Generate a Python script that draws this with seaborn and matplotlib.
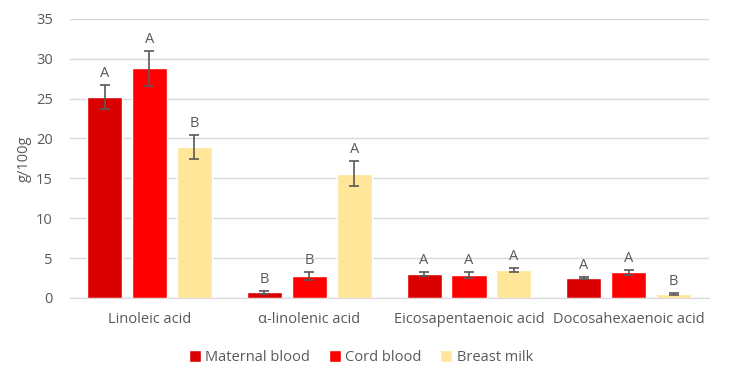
import pandas as pd
import numpy as np
import matplotlib.pyplot as plt
import seaborn as sns

# values
acids = ['Linoleic acid', 'α-linolenic acid', 'Eicosapentaenoic acid', 'Docosahexaenoic acid']
groups = ['Maternal blood', 'Cord blood', 'Breast milk']

maternal = [25.2, 0.7, 3.0, 2.5]
cord = [28.8, 2.7, 2.9, 3.2]
milk = [18.9, 15.6, 3.5, 0.5]

maternal_err = [1.5, 0.2, 0.25, 0.15]
cord_err = [2.2, 0.5, 0.35, 0.3]
milk_err = [1.5, 1.6, 0.3, 0.1]

maternal_lbl = ['A', 'B', 'A', 'A']
cord_lbl = ['A', 'B', 'A', 'A']
milk_lbl = ['B', 'A', 'A', 'B']

colors = ['#DA0000', '#FF0000', '#FFE699']
grey = '#595959'

rows = []
for g, vals, errs, lbls in zip(groups, [maternal, cord, milk],
                               [maternal_err, cord_err, milk_err],
                               [maternal_lbl, cord_lbl, milk_lbl]):
    for a, v, e, l in zip(acids, vals, errs, lbls):
        rows.append({'acid': a, 'group': g, 'value': v, 'err': e, 'lbl': l})
df = pd.DataFrame(rows)

sns.set_style('white')
plt.rcParams['font.family'] = ['Open Sans', 'DejaVu Sans']

fig = plt.figure(figsize=(7.44, 3.71), dpi=100)
ax = fig.add_axes([0.0935, 0.197, 0.859, 0.752])

sns.barplot(data=df, x='acid', y='value', hue='group', order=acids, hue_order=groups,
            palette=colors, saturation=1, width=0.844, gap=0.22, errorbar=None,
            ax=ax, zorder=2)

# error bars and letters on each bar
for cont, g in zip(ax.containers, groups):
    sub = df[df['group'] == g].set_index('acid').loc[acids]
    for bar, v, e, l in zip(cont, sub['value'], sub['err'], sub['lbl']):
        cx = bar.get_x() + bar.get_width() / 2
        ax.errorbar(cx, v, yerr=e, color=grey, capsize=3.5, elinewidth=1.2,
                    capthick=1.2, zorder=3)
        ax.text(cx, v + e + 0.5, l, ha='center', va='bottom', color=grey, fontsize=10.5)

ax.set_xlim(-0.5, 3.5)
ax.set_ylim(0, 35)
ax.set_yticks(range(0, 36, 5))
ax.yaxis.grid(True, color='#D9D9D9', linewidth=1)
ax.set_axisbelow(True)
for s in ['top', 'right', 'left']:
    ax.spines[s].set_visible(False)
ax.spines['bottom'].set_color('#D9D9D9')
ax.tick_params(axis='both', length=0, colors=grey, labelsize=10.5)
ax.tick_params(axis='x', pad=10)
ax.tick_params(axis='y', pad=12)
ax.set_xlabel('')
ax.set_ylabel('g/100g', color=grey, fontsize=10.5, labelpad=3)

ax.legend(loc='upper center', bbox_to_anchor=(0.456, -0.14), ncol=3, frameon=False,
          handlelength=0.8, handleheight=0.8, handletextpad=0.3, columnspacing=1.3,
          labelcolor=grey, fontsize=10.5)

plt.savefig('out.png', dpi=100)
